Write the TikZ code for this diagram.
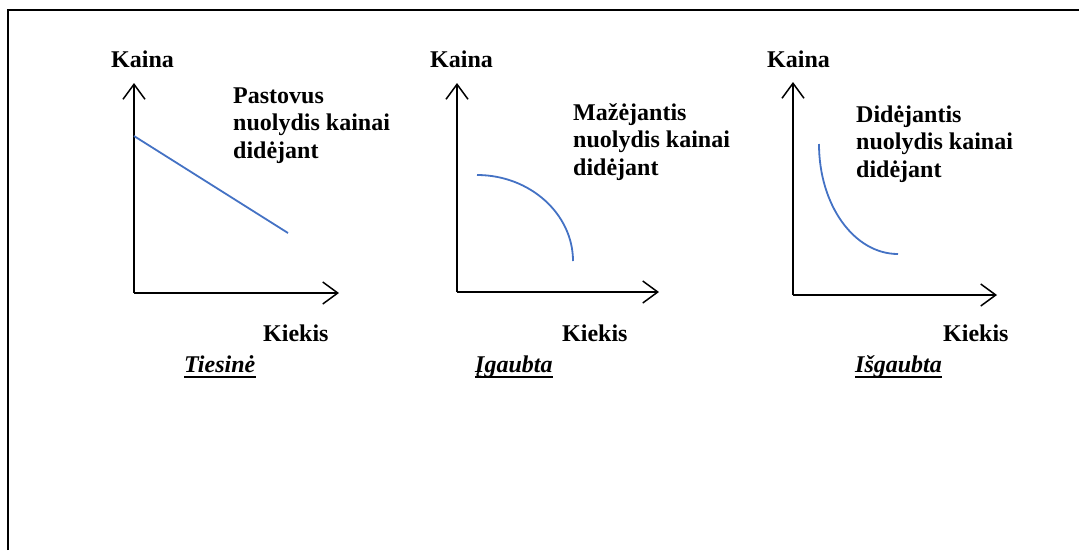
\documentclass[tikz,border=0pt]{standalone}
\usepackage{fontspec}
\setmainfont{Liberation Serif}
\usetikzlibrary{arrows.meta}
\definecolor{curveblue}{HTML}{4472C4}
\begin{document}
\begin{tikzpicture}[x=1pt,y=-1pt,
  axis/.style={line width=1.5pt,-{Straight Barb[length=15pt,width=22pt,line width=1.5pt]}},
  curve/.style={line width=1.8pt,curveblue},
  lbl/.style={inner sep=0pt,anchor=base west,font=\fontsize{24}{27.5}\selectfont\bfseries,align=left},
  ttl/.style={inner sep=0pt,anchor=base west,font=\fontsize{24}{27.5}\selectfont\bfseries\itshape},
  frame/.style={line width=2pt}]
\useasboundingbox (0,0) rectangle (1079,550);
% frame
\coordinate (fbl) at (8,550);
\coordinate (ftl) at (8,10);
\coordinate (ftr) at (1079,10);
\draw[frame] (fbl) -- (ftl) -- (ftr);
% chart 1
\coordinate (o1) at (134,293);
\coordinate (yt1) at (134,83);
\coordinate (xt1) at (339,293);
\draw[axis] (o1) -- (yt1);
\draw[axis] (o1) -- (xt1);
\coordinate (c1a) at (134,136);
\coordinate (c1b) at (288,233);
\draw[curve] (c1a) -- (c1b);
\node[lbl] (k1) at (111,67) {Kaina};
\node[lbl] (d1) at (233,158) {Pastovus\\nuolydis kainai\\didėjant};
\node[lbl] (q1) at (263,341) {Kiekis};
\node[ttl] (t1) at (184,372) {Tiesinė};
\draw[line width=1.4pt] ([yshift=-5pt]t1.base west) -- ([yshift=-5pt]t1.base east);
% chart 2
\coordinate (o2) at (457,292);
\coordinate (yt2) at (457,83);
\coordinate (xt2) at (659,292);
\draw[axis] (o2) -- (yt2);
\draw[axis] (o2) -- (xt2);
\coordinate (c2a) at (477,175);
\coordinate (c2b) at (573,261);
\draw[curve] (c2a) .. controls +(53,0) and +(0,-47) .. (c2b);
\node[lbl] (k2) at (430,67) {Kaina};
\node[lbl] (d2) at (573,175) {Mažėjantis\\nuolydis kainai\\didėjant};
\node[lbl] (q2) at (562,341) {Kiekis};
\node[ttl] (t2) at (475,372) {Įgaubta};
\draw[line width=1.4pt] ([yshift=-5pt]t2.base west) -- ([yshift=-5pt]t2.base east);
% chart 3
\coordinate (o3) at (793,295);
\coordinate (yt3) at (793,82);
\coordinate (xt3) at (997,295);
\draw[axis] (o3) -- (yt3);
\draw[axis] (o3) -- (xt3);
\coordinate (c3a) at (819,144);
\coordinate (c3b) at (898,254);
\draw[curve] (c3a) .. controls +(0,61) and +(-44,0) .. (c3b);
\node[lbl] (k3) at (767,67) {Kaina};
\node[lbl] (d3) at (856,177) {Didėjantis\\nuolydis kainai\\didėjant};
\node[lbl] (q3) at (943,341) {Kiekis};
\node[ttl] (t3) at (855,372) {Išgaubta};
\draw[line width=1.4pt] ([yshift=-5pt]t3.base west) -- ([yshift=-5pt]t3.base east);
\end{tikzpicture}
\end{document}
